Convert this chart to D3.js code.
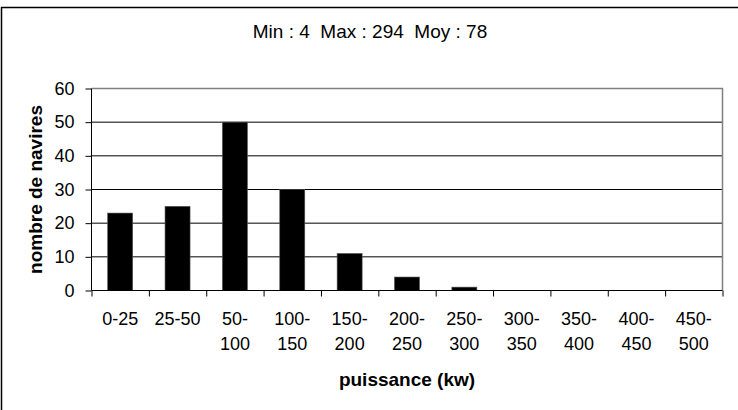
<!DOCTYPE html>
<html>
<head>
<meta charset="utf-8">
<script src="https://cdn.jsdelivr.net/npm/d3@7"></script>
<style>
  html, body { margin: 0; padding: 0; background: #fff; }
  svg { display: block; font-family: Arial, "Liberation Sans", sans-serif; }
</style>
</head>
<body>
<svg id="chart" width="738" height="410"></svg>
<script>
// ---- data ----
const categories = ["0-25", "25-50", "50-100", "100-150", "150-200", "200-250", "250-300", "300-350", "350-400", "400-450", "450-500"];
const counts = [23, 25, 50, 30, 11, 4, 1, 0, 0, 0, 0];
const yTicks = [0, 10, 20, 30, 40, 50, 60];
const titleText = "Min : 4  Max : 294  Moy : 78";
const xTitle = "puissance (kw)";
const yTitle = "nombre de navires";

// ---- layout ----
const svg = d3.select("#chart");
const pLeft = 91.5, pRight = 722.5, pTop = 88.5, pBottom = 290.5;

// outer frame
svg.append("rect")
  .attr("x", 1.5).attr("y", 7.5)
  .attr("width", 745).attr("height", 420)
  .attr("fill", "none").attr("stroke", "#000").attr("stroke-width", 1.5);

const x = d3.scaleBand().domain(categories).range([pLeft, pRight])
  .paddingInner(0.564).paddingOuter(0.282);
const xEdge = d3.scaleLinear().domain([0, categories.length]).range([pLeft, pRight]);
const y = d3.scaleLinear().domain([0, 60]).range([pBottom, pTop]);

// gridlines
svg.append("g").selectAll("line")
  .data(yTicks.filter(d => d > 0 && d < 60))
  .join("line")
  .attr("x1", pLeft).attr("x2", pRight)
  .attr("y1", d => y(d)).attr("y2", d => y(d))
  .attr("stroke", "#000").attr("stroke-width", 1);

// plot frame top + right (gray)
svg.append("path")
  .attr("d", `M${pLeft},${y(60)}H${pRight}V${pBottom}`)
  .attr("fill", "none").attr("stroke", "#808080").attr("stroke-width", 1.5);

// bars
svg.append("g").selectAll("rect")
  .data(categories.map((c, i) => ({ c, v: counts[i] })).filter(d => d.v > 0))
  .join("rect")
  .attr("x", d => x(d.c))
  .attr("width", x.bandwidth())
  .attr("y", d => y(d.v))
  .attr("height", d => y(0) - y(d.v))
  .attr("fill", "#000")
  .attr("stroke", "#555").attr("stroke-width", 0.6);

// y axis
const yAxis = d3.axisLeft(y).tickValues(yTicks).tickSize(6).tickPadding(11);
const gy = svg.append("g").attr("transform", `translate(${pLeft},0)`).call(yAxis);
gy.select(".domain").attr("stroke", "#000").attr("d", `M-0,${pTop}V${pBottom}`);
gy.selectAll(".tick line").attr("stroke", "#000");
gy.selectAll(".tick text").attr("font-size", 18).attr("fill", "#000")
  .attr("font-family", "Arial, 'Liberation Sans', sans-serif");

// x axis (edge ticks)
const xAxis = d3.axisBottom(xEdge).tickValues(d3.range(categories.length + 1))
  .tickSize(6).tickFormat("");
const gx = svg.append("g").attr("transform", `translate(0,${pBottom})`).call(xAxis);
gx.select(".domain").attr("stroke", "#000").attr("d", `M${pLeft},0H${pRight}`);
gx.selectAll(".tick line").attr("stroke", "#000");

// x category labels (two lines when a hyphen splits wide labels)
const lab = svg.append("g").attr("font-size", 18).attr("text-anchor", "middle").attr("fill", "#000");
categories.forEach((c, i) => {
  const cx = x(c) + x.bandwidth() / 2;
  const parts = c.split("-");
  const lines = (parts[0].length + parts[1].length > 4) ? [parts[0] + "-", parts[1]] : [c];
  const t = lab.append("text").attr("x", cx).attr("y", 325);
  lines.forEach((ln, k) => {
    t.append("tspan").attr("x", cx).attr("dy", k === 0 ? 0 : 25).text(ln);
  });
});

// title
svg.append("text").attr("x", 370).attr("y", 38)
  .attr("text-anchor", "middle").attr("font-size", 19).attr("fill", "#000")
  .style("white-space", "pre")
  .text(titleText);

// axis titles
svg.append("text").attr("x", (pLeft + pRight) / 2).attr("y", 386)
  .attr("text-anchor", "middle").attr("font-size", 19).attr("font-weight", "bold")
  .text(xTitle);
svg.append("text")
  .attr("transform", `translate(42,${(pTop + pBottom) / 2}) rotate(-90)`)
  .attr("text-anchor", "middle").attr("font-size", 19).attr("font-weight", "bold")
  .text(yTitle);
</script>
</body>
</html>
